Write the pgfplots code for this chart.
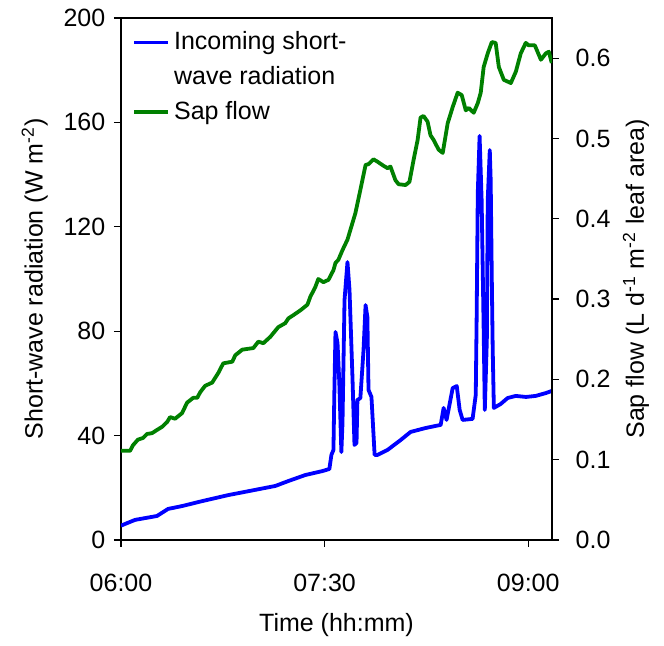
\documentclass[border=0pt]{standalone}
\usepackage{fontspec}
\setmainfont{Liberation Sans}
\usepackage{pgfplots}
\pgfplotsset{compat=1.18}

% radiation (W m-2) against minutes after 06:00
\pgfplotstableread{
t W
0 5.5
6.2 7.7
15.9 9.2
20.8 11.9
27.0 13.0
35.9 14.9
47.4 17.2
59.3 19.2
68.2 20.7
74.0 22.6
81.5 24.9
89.0 26.4
92.1 27.2
93.0 32.6
93.9 34.5
94.3 56.3
94.8 79.7
95.7 75.5
96.5 60.2
97.4 33.7
97.9 44.8
98.8 92.0
100.1 106.5
101.0 95.8
102.3 62.5
103.2 36.4
104.1 37.2
104.5 53.6
105.8 54.4
107.2 72.8
108.1 90.0
108.9 85.4
109.4 57.5
110.7 54.8
112.1 32.6
113.4 32.6
117.8 34.5
123.6 38.3
128.0 41.4
134.6 42.9
141.3 44.1
142.6 50.6
143.9 46.0
146.6 58.2
148.4 59.0
149.7 49.8
151.0 46.0
155.4 46.4
156.8 55.6
157.2 85.4
157.7 133.0
158.5 154.8
159.4 130.3
160.3 80.5
160.8 49.8
161.7 76.6
162.1 130.3
163.0 149.4
163.4 137.9
163.9 99.6
164.3 72.8
164.8 50.6
167.8 52.1
170.9 54.4
174.5 55.2
179.0 54.8
183.3 55.2
187.8 56.3
190.4 57.1
}\radtab

% sap flow (L d-1 m-2 leaf area)
\pgfplotstableread{
t S
0 0.111
4.0 0.111
5.3 0.118
7.5 0.125
9.7 0.127
11.5 0.132
13.7 0.133
15.9 0.137
18.2 0.141
20.4 0.147
21.7 0.153
23.9 0.151
27.0 0.158
29.2 0.171
31.9 0.177
33.7 0.177
35.0 0.184
37.2 0.192
40.3 0.196
43.0 0.208
45.2 0.220
49.2 0.222
50.5 0.230
53.6 0.237
58.5 0.239
60.7 0.247
62.9 0.245
66.0 0.253
69.5 0.265
72.6 0.270
74.0 0.276
76.2 0.280
79.3 0.286
82.4 0.293
83.7 0.303
85.9 0.315
87.2 0.325
89.5 0.321
91.7 0.324
93.9 0.336
94.8 0.345
96.1 0.349
97.9 0.361
100.1 0.374
103.6 0.407
105.8 0.436
108.1 0.467
109.4 0.468
111.6 0.474
113.4 0.471
116.0 0.466
117.8 0.463
119.1 0.465
121.3 0.448
122.7 0.443
125.8 0.442
127.5 0.446
129.3 0.473
131.1 0.498
132.4 0.526
133.7 0.528
135.5 0.521
136.8 0.504
138.2 0.498
140.4 0.486
142.2 0.482
144.4 0.519
146.6 0.539
148.8 0.557
150.6 0.554
152.4 0.535
153.7 0.538
155.9 0.532
157.7 0.544
159.0 0.557
160.3 0.589
162.1 0.606
163.9 0.620
165.6 0.619
167.0 0.589
169.2 0.573
172.3 0.569
174.5 0.583
176.7 0.606
178.9 0.619
180.2 0.616
182.9 0.616
185.6 0.598
187.8 0.606
189.1 0.608
190.4 0.594
}\saptab

\definecolor{sapgreen}{RGB}{0,128,0}

\pgfplotsset{
  common/.style={
    scale only axis, width=215.5pt, height=261pt,
    xmin=0, xmax=190.5,
    axis line style={line width=0.6pt},
    tick style={line width=0.6pt, black},
    major tick length=3.5pt,
    tick align=outside,
    /pgf/number format/assume math mode=true,
  },
}

\begin{document}
\fontsize{12.5}{16}\selectfont
\begin{tikzpicture}
\begin{axis}[common,
    ymin=0, ymax=200,
    ytick={0,40,...,200},
    xtick={0,90,180}, xticklabels={06:00,07:30,09:00},
    xtick pos=bottom, ytick pos=left,
    xticklabel style={yshift=-9pt},
    xlabel={Time (hh:mm)},
    xlabel style={at={(axis description cs:0.5,-0.163)}, anchor=center},
    ylabel={Short-wave radiation (W m\textsuperscript{-2})},
    ylabel style={at={(axis description cs:-0.2,0.5)}, anchor=center},
]
\addplot[blue, line width=1.9pt, line join=round] table[x=t, y=W] {\radtab};
\end{axis}
\begin{axis}[common,
    ymin=0, ymax=0.65,
    ytick={0,0.1,...,0.6},
    yticklabel style={xshift=4pt, /pgf/number format/.cd, fixed, fixed zerofill, precision=1},
    axis x line=none, axis y line*=right,
    ylabel={Sap flow (L d\textsuperscript{-1} m\textsuperscript{-2} leaf area)},
    ylabel style={at={(axis description cs:1.195,0.5)}, anchor=center},
    legend style={at={(0.011,0.99)}, anchor=north west, draw=none, fill=none,
                  row sep=2.5pt},
    legend cell align=left,
]
\addlegendimage{blue, line width=1.9pt}
\addlegendentry{Incoming short-}
\addlegendimage{legend image code/.code={}}
\addlegendentry{wave radiation}
\addplot[sapgreen, line width=1.9pt, line join=round] table[x=t, y=S] {\saptab};
\addlegendentry{Sap flow}
\end{axis}
\path (current axis.south west) ++(-60.5pt,-50.5pt);
\path (current axis.north east) ++(56pt,9pt);
\end{tikzpicture}
\end{document}
